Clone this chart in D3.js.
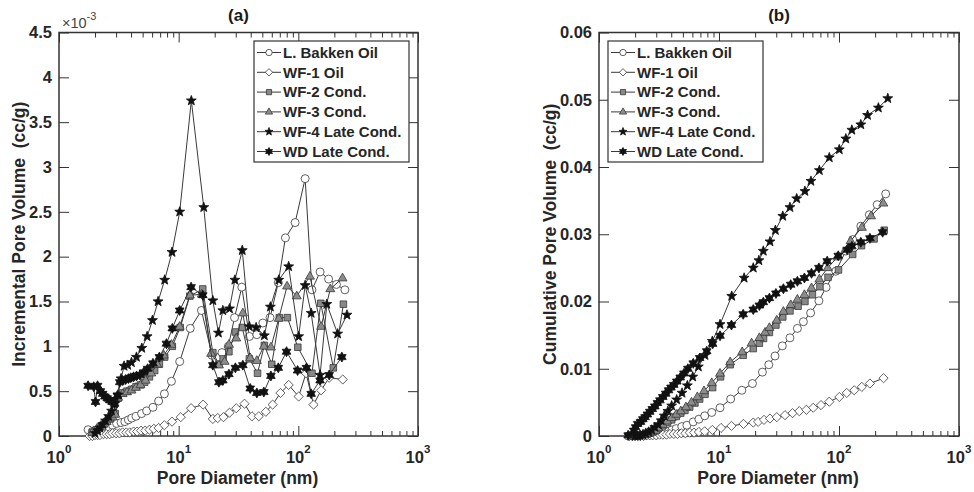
<!DOCTYPE html>
<html lang="en">
<head>
<meta charset="UTF-8">
<title>Incremental and Cumulative Pore Volume</title>
<script src="https://d3js.org/d3.v7.min.js"></script>
<style>
  body { margin: 0; background: #fff; }
  svg { display: block; font-family: "Liberation Sans", Arial, sans-serif; }
  .axis path { display: none; }
  .axis line { stroke: #333; stroke-width: 1; }
  .axis .tick text { font-size: 16.5px; font-weight: bold; fill: #262626; }
  .frame { fill: none; stroke: #333; stroke-width: 1.5; }
  .axis-label { font-size: 17.5px; font-weight: bold; fill: #262626; white-space: pre; }
  .title { font-size: 17px; font-weight: bold; fill: #1a1a1a; text-anchor: middle; }
  .xlab { font-size: 16.5px; font-weight: bold; fill: #262626; text-anchor: middle; }
  .legend text { font-size: 15px; font-weight: bold; fill: #262626; }
  .series-line { fill: none; stroke: #3a3a3a; stroke-width: 1; }
</style>
</head>
<body>
<svg id="chart" width="974" height="492"></svg>
<script>
// ---- data ----
const seriesNames = ["L. Bakken Oil", "WF-1 Oil", "WF-2 Cond.", "WF-3 Cond.", "WF-4 Late Cond.", "WD Late Cond."];

// L. Bakken Oil (open circles)
const bakkenDiam = [1.75, 1.9, 2.05, 2.2, 2.4, 2.6, 2.8, 3.03, 3.3, 3.55, 3.8, 4.05, 4.4, 4.9, 5.4, 6.1, 6.8, 7.6, 8.7, 10.2,
  12.5, 15.5, 19.0, 23, 26, 29.3, 33.7, 39, 45, 50.5, 58, 68, 78, 94, 114, 130, 152, 179, 208, 245];
const bakkenIncr = [0.07, 0.05, 0.06, 0.07, 0.09, 0.10, 0.12, 0.14, 0.15, 0.16, 0.18, 0.20, 0.22, 0.25, 0.28, 0.32, 0.39, 0.47, 0.61, 0.83,
  1.20, 1.40, 0.90, 0.93, 1.00, 1.32, 1.66, 1.11, 1.13, 1.26, 1.32, 1.71, 2.21, 2.38, 2.87, 1.63, 1.83, 1.75, 1.69, 1.63];
const bakkenCum = [0.0000, 0.0000, 0.0001, 0.0001, 0.0001, 0.0002, 0.0002, 0.0003, 0.0004, 0.0006, 0.0007, 0.0009, 0.0011, 0.0014, 0.0016, 0.0021, 0.0025, 0.0030, 0.0035, 0.0042,
  0.0055, 0.0068, 0.0078, 0.0095, 0.0106, 0.0119, 0.0134, 0.0146, 0.0160, 0.0170, 0.0183, 0.0201, 0.0221, 0.0245, 0.0275, 0.0292, 0.0312, 0.0329, 0.0344, 0.0360];

// WF-1 Oil (open diamonds)
const wf1Diam = [1.8, 1.9, 2.0, 2.1, 2.2, 2.35, 2.5, 2.65, 2.8, 3.0, 3.2, 3.4, 3.65, 3.9, 4.2, 4.5, 4.85, 5.25, 5.7, 6.2,
  6.8, 7.6, 8.8, 10.4, 12.7, 16.0, 19.3, 21.2, 23.7, 26.6, 30.3, 35.5, 41, 46.7, 53.5, 61, 70.8, 83, 100.6, 116, 134, 155, 181, 235];
const wf1Incr = [0.00, 0.00, 0.01, 0.01, 0.01, 0.02, 0.02, 0.02, 0.03, 0.03, 0.03, 0.04, 0.04, 0.04, 0.05, 0.05, 0.06, 0.06, 0.07, 0.08,
  0.09, 0.12, 0.16, 0.21, 0.31, 0.35, 0.19, 0.20, 0.21, 0.26, 0.31, 0.36, 0.22, 0.22, 0.27, 0.35, 0.48, 0.57, 0.44, 0.70, 0.35, 0.51, 0.65, 0.63];
const wf1Cum = [0.0000, 0.0000, 0.0000, 0.0000, 0.0000, 0.0000, 0.0001, 0.0001, 0.0001, 0.0001, 0.0002, 0.0002, 0.0002, 0.0003, 0.0003, 0.0003, 0.0004, 0.0004, 0.0005, 0.0005,
  0.0006, 0.0007, 0.0009, 0.0012, 0.0015, 0.0018, 0.0020, 0.0021, 0.0024, 0.0026, 0.0028, 0.0031, 0.0034, 0.0037, 0.0039, 0.0042, 0.0046, 0.0051, 0.0058, 0.0064, 0.0068, 0.0073, 0.0078, 0.0086];

// WF-2 Cond. (grey squares)
const wf2Diam = [1.9, 2.05, 2.2, 2.35, 2.5, 2.65, 2.8, 2.95, 3.12, 3.4, 3.7, 4.03, 4.4, 4.8, 5.2, 5.7, 6.3, 6.9, 7.64, 8.85,
  10.3, 12.4, 15.9, 19.3, 21.7, 23.5, 26.3, 29.8, 34, 39, 45.6, 52, 60, 69.4, 81, 99, 130, 154, 196, 238];
const wf2Incr = [0.04, 0.07, 0.10, 0.13, 0.16, 0.19, 0.22, 0.25, 0.42, 0.48, 0.50, 0.52, 0.55, 0.57, 0.60, 0.66, 0.73, 0.80, 0.88, 1.00,
  1.21, 1.56, 1.64, 0.93, 0.80, 0.86, 0.94, 1.16, 1.21, 0.86, 0.70, 1.01, 0.80, 1.32, 1.32, 0.99, 0.70, 1.48, 0.76, 1.47];
const wf2Cum = [0.0000, 0.0000, 0.0001, 0.0002, 0.0003, 0.0004, 0.0006, 0.0008, 0.0011, 0.0015, 0.0020, 0.0024, 0.0029, 0.0034, 0.0038, 0.0043, 0.0049, 0.0055, 0.0062, 0.0072,
  0.0088, 0.0106, 0.0120, 0.0130, 0.0138, 0.0145, 0.0154, 0.0165, 0.0177, 0.0186, 0.0193, 0.0200, 0.0210, 0.0222, 0.0236, 0.0247, 0.0270, 0.0283, 0.0293, 0.0306];

// WF-3 Cond. (grey triangles)
const wf3Diam = [1.9, 2.05, 2.2, 2.35, 2.5, 2.65, 2.8, 2.95, 3.12, 3.4, 3.7, 4.03, 4.4, 4.8, 5.3, 5.9, 6.6, 7.5, 8.7, 10.2,
  12.4, 15.6, 18.7, 21.7, 24.2, 26.3, 30.3, 34.4, 39.6, 45, 51.5, 59, 68.6, 80.5, 97, 125, 155, 185, 234];
const wf3Incr = [0.04, 0.07, 0.10, 0.13, 0.16, 0.19, 0.21, 0.24, 0.43, 0.47, 0.49, 0.51, 0.54, 0.57, 0.62, 0.70, 0.80, 0.90, 1.02, 1.22,
  1.57, 1.58, 0.92, 0.79, 0.83, 1.02, 1.09, 1.37, 0.87, 0.84, 1.00, 0.99, 1.31, 1.67, 1.56, 1.78, 1.22, 1.64, 1.76];
const wf3Cum = [0.0000, 0.0000, 0.0001, 0.0002, 0.0003, 0.0004, 0.0006, 0.0008, 0.0012, 0.0017, 0.0022, 0.0027, 0.0032, 0.0037, 0.0043, 0.0050, 0.0058, 0.0067, 0.0079, 0.0093,
  0.0110, 0.0125, 0.0138, 0.0146, 0.0154, 0.0161, 0.0172, 0.0185, 0.0195, 0.0203, 0.0210, 0.0220, 0.0233, 0.0250, 0.0266, 0.0290, 0.0310, 0.0327, 0.0346];

// WF-4 Late Cond. (black pentagrams)
const wf4Diam = [2.0, 2.1, 2.2, 2.32, 2.45, 2.6, 2.75, 2.92, 3.12, 3.3, 3.5, 3.75, 4.03, 4.44, 4.92, 5.45, 6.04, 6.73, 7.64, 8.8,
  10.2, 12.76, 16.2, 19.3, 21.5, 23.4, 26.6, 29.5, 34, 39, 44.4, 52, 58.4, 68.6, 83, 100.6, 114, 128, 152, 173, 213, 255];
const wf4Incr = [0.03, 0.06, 0.09, 0.13, 0.17, 0.22, 0.28, 0.36, 0.46, 0.64, 0.78, 0.79, 0.82, 0.88, 0.98, 1.11, 1.29, 1.50, 1.74, 2.05,
  2.50, 3.74, 2.55, 1.51, 1.15, 1.40, 1.42, 1.74, 2.07, 1.22, 1.21, 1.12, 1.44, 1.74, 1.89, 1.11, 1.68, 1.37, 0.68, 1.47, 1.14, 1.35];
const wf4Cum = [0.0000, 0.0000, 0.0001, 0.0002, 0.0004, 0.0006, 0.0009, 0.0013, 0.0017, 0.0023, 0.0030, 0.0037, 0.0045, 0.0054, 0.0064, 0.0075, 0.0088, 0.0103, 0.0120, 0.0141,
  0.0166, 0.0208, 0.0235, 0.0250, 0.0261, 0.0275, 0.0289, 0.0306, 0.0327, 0.0340, 0.0353, 0.0364, 0.0379, 0.0395, 0.0414, 0.0426, 0.0442, 0.0455, 0.0463, 0.0477, 0.0488, 0.0502];

// WD Late Cond. (black hexagrams)
const wdDiam = [1.75, 1.95, 2.02, 2.1, 2.22, 2.32, 2.42, 2.53, 2.65, 2.78, 2.92, 3.07, 3.22, 3.4, 3.6, 3.8, 3.98, 4.2, 4.45, 4.75,
  5.1, 5.5, 6.1, 6.9, 7.9, 8.85, 10.2, 12.7, 15.9, 19.3, 21.7, 23.4, 26.3, 29.8, 34.4, 39.6, 45, 51.5, 59, 68, 79.7, 98.6, 117, 128, 152, 181, 231];
const wdIncr = [0.56, 0.55, 0.38, 0.56, 0.50, 0.47, 0.44, 0.42, 0.40, 0.38, 0.36, 0.45, 0.60, 0.62, 0.63, 0.64, 0.65, 0.66, 0.67, 0.68,
  0.71, 0.75, 0.81, 0.88, 1.03, 1.20, 1.40, 1.66, 1.57, 0.79, 0.60, 0.62, 0.69, 0.76, 0.79, 0.53, 0.48, 0.49, 0.67, 0.76, 0.94, 0.73, 0.76, 0.47, 0.62, 0.68, 0.88];
const wdCum = [0.0001, 0.0008, 0.0013, 0.0018, 0.0021, 0.0025, 0.0028, 0.0032, 0.0036, 0.0040, 0.0044, 0.0049, 0.0053, 0.0058, 0.0063, 0.0068, 0.0072, 0.0076, 0.0081, 0.0087,
  0.0093, 0.0100, 0.0108, 0.0116, 0.0126, 0.0137, 0.0149, 0.0165, 0.0181, 0.0188, 0.0194, 0.0199, 0.0205, 0.0212, 0.0219, 0.0225, 0.0230, 0.0235, 0.0242, 0.0250, 0.0260, 0.0268, 0.0277, 0.0282, 0.0288, 0.0294, 0.0303];

// axis ticks
const xMajorTicks = [1, 10, 100, 1000];
const incrTicks = [0, 0.5, 1, 1.5, 2, 2.5, 3, 3.5, 4, 4.5];   // x 10^-3
const cumTicks = [0, 0.01, 0.02, 0.03, 0.04, 0.05, 0.06];

// ---- marker shapes (size = radius in px) ----
function starType(points, innerRatio) {
  return {
    draw(ctx, r) {
      for (let i = 0; i < points * 2; i++) {
        const a = Math.PI / points * i - Math.PI / 2;
        const rr = i % 2 ? r * innerRatio : r;
        if (i === 0) ctx.moveTo(rr * Math.cos(a), rr * Math.sin(a));
        else ctx.lineTo(rr * Math.cos(a), rr * Math.sin(a));
      }
      ctx.closePath();
    }
  };
}
const markerTypes = {
  circle: { draw(ctx, r) { ctx.moveTo(r, 0); ctx.arc(0, 0, r, 0, 2 * Math.PI); } },
  diamond: { draw(ctx, r) { ctx.moveTo(0, -r); ctx.lineTo(r, 0); ctx.lineTo(0, r); ctx.lineTo(-r, 0); ctx.closePath(); } },
  square: { draw(ctx, r) { const s = r * 0.78; ctx.rect(-s, -s, 2 * s, 2 * s); } },
  triangle: { draw(ctx, r) { ctx.moveTo(0, -r); ctx.lineTo(r * 0.9, r * 0.55); ctx.lineTo(-r * 0.9, r * 0.55); ctx.closePath(); } },
  pentagram: starType(5, 0.42),
  hexagram: starType(6, 0.58)
};

const series = [
  { name: seriesNames[0], diam: bakkenDiam, incr: bakkenIncr, cum: bakkenCum, marker: "circle", r: 4, fill: "#fff" },
  { name: seriesNames[1], diam: wf1Diam, incr: wf1Incr, cum: wf1Cum, marker: "diamond", r: 4.6, fill: "#fff" },
  { name: seriesNames[2], diam: wf2Diam, incr: wf2Incr, cum: wf2Cum, marker: "square", r: 4.2, fill: "#888" },
  { name: seriesNames[3], diam: wf3Diam, incr: wf3Incr, cum: wf3Cum, marker: "triangle", r: 5, fill: "#8c8c8c" },
  { name: seriesNames[4], diam: wf4Diam, incr: wf4Incr, cum: wf4Cum, marker: "pentagram", r: 5.2, fill: "#111" },
  { name: seriesNames[5], diam: wdDiam, incr: wdIncr, cum: wdCum, marker: "hexagram", r: 5, fill: "#111" }
];

const svg = d3.select("#chart");
const plotTop = 32.5, plotBottom = 436;

const panels = [
  { title: "(a)", left: 59, right: 418, key: "incr", yMax: 4.5, ticks: incrTicks,
    yLabel: "Incremental Pore Volume  (cc/g)", yLabelX: 25, legendX: 254, exponent: true },
  { title: "(b)", left: 599, right: 959, key: "cum", yMax: 0.06, ticks: cumTicks,
    yLabel: "Cumulative Pore Volume  (cc/g)", yLabelX: 556, legendX: 608, exponent: false }
];

panels.forEach(p => drawPanel(p));

function drawPanel(p) {
  const x = d3.scaleLog().domain([1, 1000]).range([p.left, p.right]);
  const y = d3.scaleLinear().domain([0, p.yMax]).range([plotBottom, plotTop]);
  const g = svg.append("g");

  // minor ticks of the log axis
  const minor = [];
  [1, 10, 100].forEach(dec => { for (let k = 2; k <= 9; k++) minor.push(dec * k); });

  g.append("g").attr("class", "axis")
    .attr("transform", `translate(0,${plotBottom})`)
    .call(d3.axisBottom(x).tickValues(xMajorTicks).tickSize(-10).tickFormat(""));
  g.append("g").attr("class", "axis")
    .attr("transform", `translate(0,${plotBottom})`)
    .call(d3.axisBottom(x).tickValues(minor).tickSize(-5).tickFormat(""));
  g.append("g").attr("class", "axis")
    .attr("transform", `translate(0,${plotTop})`)
    .call(d3.axisTop(x).tickValues(xMajorTicks).tickSize(-10).tickFormat(""));
  g.append("g").attr("class", "axis")
    .attr("transform", `translate(0,${plotTop})`)
    .call(d3.axisTop(x).tickValues(minor).tickSize(-5).tickFormat(""));

  g.append("g").attr("class", "axis")
    .attr("transform", `translate(${p.left},0)`)
    .call(d3.axisLeft(y).tickValues(p.ticks).tickSize(-10).tickPadding(7).tickFormat(d3.format("~g")));
  g.append("g").attr("class", "axis")
    .attr("transform", `translate(${p.right},0)`)
    .call(d3.axisRight(y).tickValues(p.ticks).tickSize(-10).tickFormat(""));

  // 10^n labels
  const xl = g.selectAll(".xlab").data(xMajorTicks).enter().append("text")
    .attr("class", "xlab")
    .attr("x", d => x(d))
    .attr("y", 463);
  xl.append("tspan").text("10");
  xl.append("tspan").attr("dy", -10).attr("font-size", "11.5px").text(d => Math.round(Math.log10(d)));

  g.append("rect").attr("class", "frame")
    .attr("x", p.left).attr("y", plotTop)
    .attr("width", p.right - p.left).attr("height", plotBottom - plotTop);

  if (p.exponent) {
    const ex = g.append("text").attr("x", p.left + 3).attr("y", 28)
      .attr("font-size", "14.5px").attr("fill", "#444");
    ex.append("tspan").text("\u00d710");
    ex.append("tspan").attr("dy", -8).attr("font-size", "11px").text("-3");
  }

  g.append("text").attr("class", "title")
    .attr("x", (p.left + p.right) / 2).attr("y", 21).text(p.title);
  g.append("text").attr("class", "axis-label")
    .attr("text-anchor", "middle")
    .attr("x", (p.left + p.right) / 2 - 1).attr("y", 484)
    .text("Pore Diameter (nm)");
  g.append("text").attr("class", "axis-label")
    .attr("text-anchor", "middle")
    .attr("transform", `translate(${p.yLabelX},${(plotTop + plotBottom) / 2}) rotate(-90)`)
    .text(p.yLabel);

  // series
  const line = d3.line().x(d => x(d[0])).y(d => y(d[1]));
  series.forEach(s => {
    const pts = s.diam.map((d, i) => [d, s[p.key][i]]);
    g.append("path").attr("class", "series-line").attr("d", line(pts));
    g.selectAll(null).data(pts).enter().append("path")
      .attr("transform", d => `translate(${x(d[0])},${y(d[1])})`)
      .attr("d", d3.symbol().type(markerTypes[s.marker]).size(s.r))
      .attr("fill", s.fill)
      .attr("stroke", s.fill === "#111" ? "#111" : "#3a3a3a")
      .attr("stroke-width", 0.8);
  });

  // legend
  const lg = g.append("g").attr("class", "legend")
    .attr("transform", `translate(${p.legendX},41)`);
  lg.append("rect").attr("width", 155).attr("height", 121)
    .attr("fill", "#fff").attr("stroke", "#333").attr("stroke-width", 1.2);
  series.forEach((s, i) => {
    const ry = 11.5 + i * 19.8;
    lg.append("line").attr("x1", 3).attr("x2", 27).attr("y1", ry).attr("y2", ry)
      .attr("stroke", "#3a3a3a").attr("stroke-width", 1);
    lg.append("path").attr("transform", `translate(15,${ry})`)
      .attr("d", d3.symbol().type(markerTypes[s.marker]).size(s.r * 0.8))
      .attr("fill", s.fill)
      .attr("stroke", s.fill === "#111" ? "#111" : "#3a3a3a")
      .attr("stroke-width", 0.8);
    lg.append("text").attr("x", 29).attr("y", ry).attr("dy", "0.35em").text(s.name);
  });
}
</script>
</body>
</html>
